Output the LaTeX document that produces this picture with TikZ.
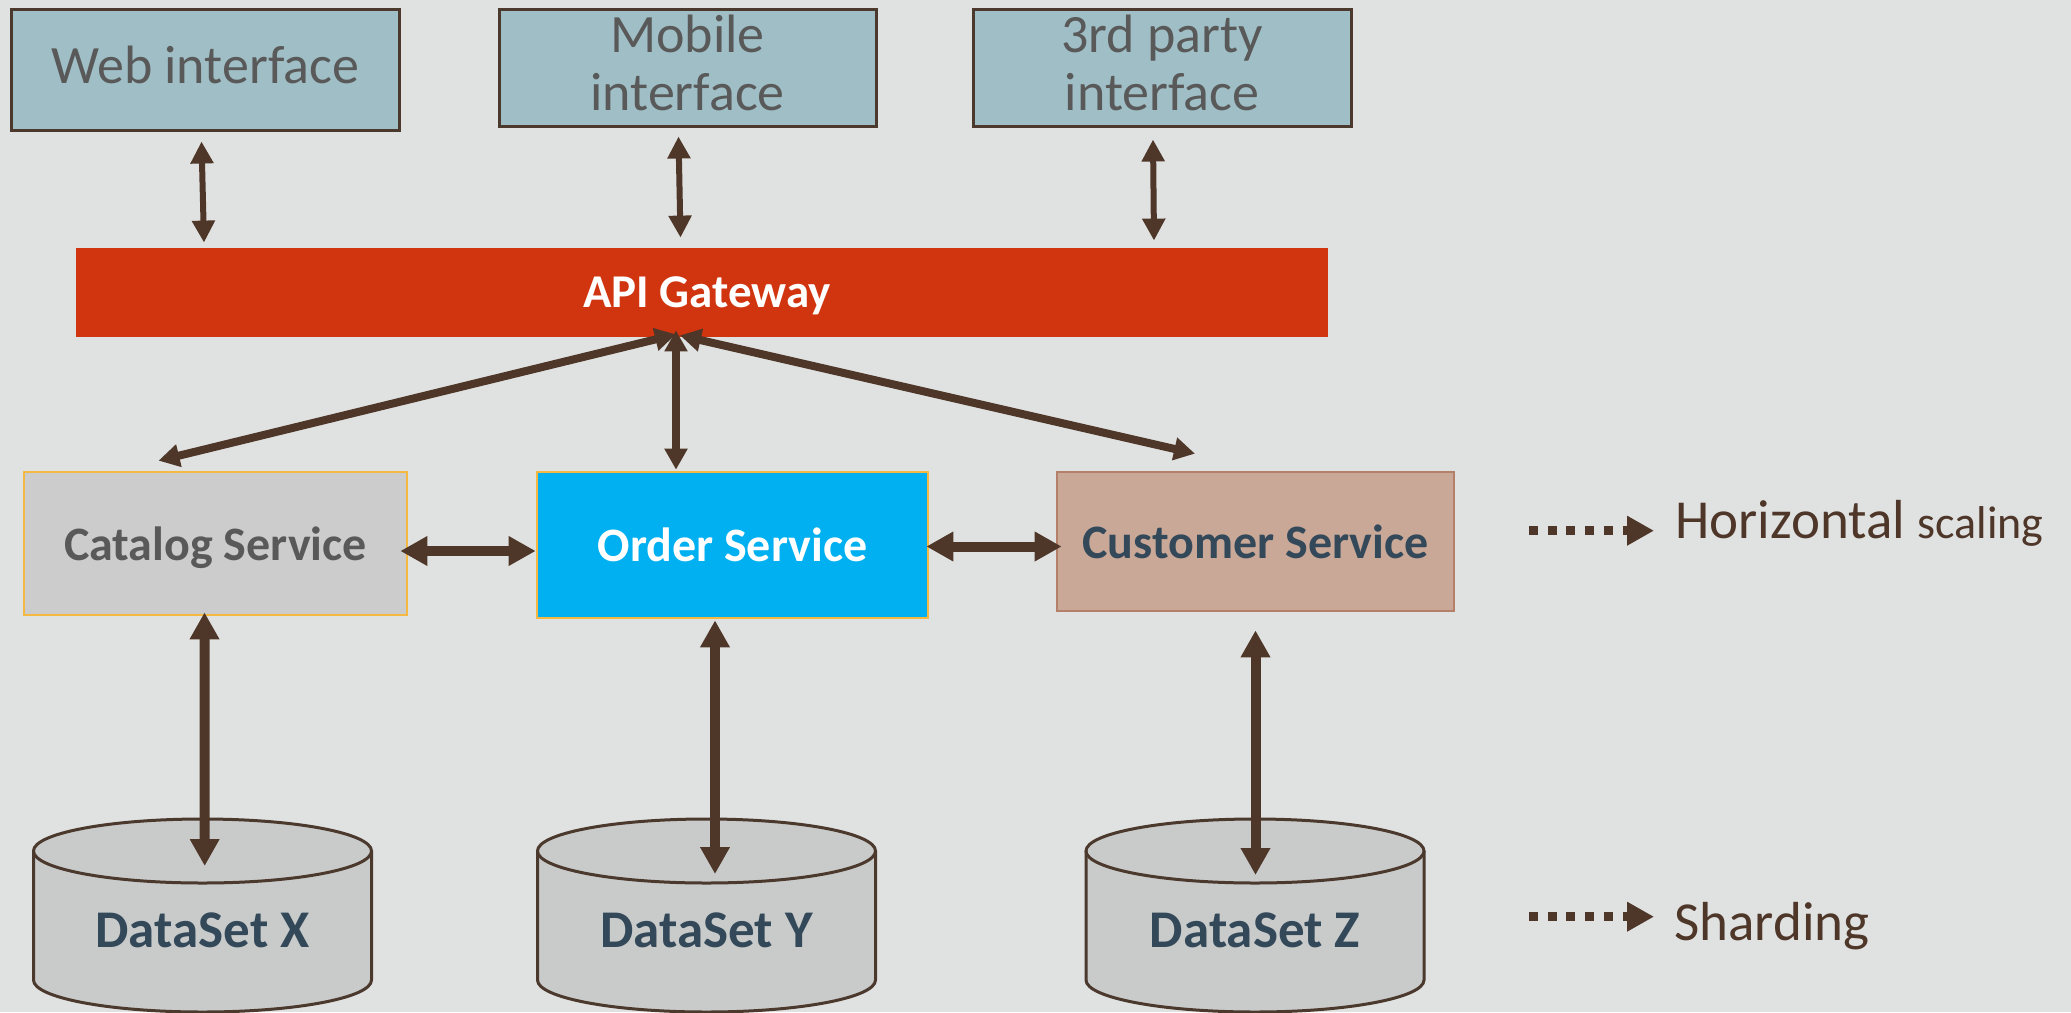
\documentclass[tikz,border=0pt]{standalone}
\usepackage{fontspec}
\setmainfont{Carlito}
\usetikzlibrary{arrows.meta,calc}

\definecolor{bgc}{HTML}{E0E2E1}
\definecolor{clientfill}{HTML}{9FBEC5}
\definecolor{darkline}{HTML}{4B392D}
\definecolor{arrowc}{HTML}{4E3629}
\definecolor{greytext}{HTML}{595959}
\definecolor{gwred}{HTML}{D1350F}
\definecolor{catfill}{HTML}{CBCCCB}
\definecolor{goldline}{HTML}{F5B942}
\definecolor{ordfill}{HTML}{00B0F0}
\definecolor{cusfill}{HTML}{C9A898}
\definecolor{cusline}{HTML}{B5806A}
\definecolor{drumfill}{HTML}{C9CBCA}
\definecolor{slatetext}{HTML}{33495A}

\begin{document}
\begin{tikzpicture}[x=0.5pt,y=-0.5pt,
  client/.style={draw=darkline, line width=1.5pt, fill=clientfill, text=greytext,
    align=center, inner sep=0pt, text depth=0pt,
    font=\fontsize{27}{29}\selectfont},
  gateway/.style={fill=gwred, text=white, inner sep=0pt, text depth=0pt,
    font=\bfseries\fontsize{23.5}{26}\selectfont},
  service/.style={line width=1.35pt, inner sep=0pt, text depth=0pt,
    font=\bfseries\fontsize{24}{28}\selectfont},
  dblabel/.style={text=slatetext, inner sep=0pt, text depth=0pt,
    font=\bfseries\fontsize{26.5}{30}\selectfont},
  drumline/.style={draw=darkline, line width=1.5pt},
  legendtext/.style={text=arrowc, inner sep=0pt, anchor=base west,
    font=\fontsize{27.5}{32}\selectfont},
  toplink/.style={draw=arrowc, line width=3pt,
    {Triangle[length=11pt,width=11pt]}-{Triangle[length=11pt,width=11pt]}},
  diaglink/.style={draw=arrowc, line width=4pt,
    {Triangle[length=10.5pt,width=11pt]}-{Triangle[length=10.5pt,width=11pt]}},
  heavylink/.style={draw=arrowc, line width=5pt,
    {Triangle[length=13.5pt,width=14pt]}-{Triangle[length=13.5pt,width=14pt]}},
  dotlink/.style={draw=arrowc, line width=4.5pt, dash pattern=on 4.5pt off 4.85pt,
    -{Triangle[length=13.5pt,width=14pt]}},
]
% canvas
\fill[bgc] (0,0) rectangle (2071,1012);
\useasboundingbox (0,0) rectangle (2071,1012);

% client interfaces
\node[client, text height=14pt, minimum width=194pt, minimum height=60.5pt] (web) at (205,69.5) {Web interface};
\node[client, text height=42.5pt, minimum width=188.5pt, minimum height=58.5pt] (mobile) at (687.5,67.5) {Mobile\\interface};
\node[client, text height=42.5pt, minimum width=189pt, minimum height=58.5pt] (third) at (1162,67.5) {3rd party\\interface};

% gateway bar
\node[gateway, minimum width=626pt, minimum height=44.5pt] (gw) at (702,292.5) {\hspace*{5pt}API Gateway};

% services
\node[service, draw=goldline, fill=catfill, text=greytext,
      minimum width=191.5pt, minimum height=71.5pt] (cat) at (215.5,543.5) {Catalog Service};
\node[service, draw=goldline, fill=ordfill, text=white,
      minimum width=195.5pt, minimum height=73pt] (ord) at (732.5,545) {Order Service};
\node[service, draw=cusline, fill=cusfill, text=slatetext,
      minimum width=198.5pt, minimum height=69.5pt] (cus) at (1255.5,541.5) {Customer Service};

% data stores drawn as drums
\foreach \cx/\lab in {202.5/X, 706.5/Y, 1255/Z}{
  \fill[drumfill] (\cx-169,851) -- (\cx-169,980)
    arc[start angle=180, end angle=0, x radius=169, y radius=32] -- (\cx+169,851) -- cycle;
  \draw[drumline] (\cx-169,851) -- (\cx-169,980)
    arc[start angle=180, end angle=0, x radius=169, y radius=32] -- (\cx+169,851);
  \draw[drumline, fill=drumfill] (\cx,851) ellipse[x radius=169, y radius=32];
  \coordinate (drum\lab) at (\cx,851);
  \node[dblabel] (db\lab) at (\cx,930) {DataSet \lab};
}

% client <-> gateway
\draw[toplink] ($(web.south)+(-3.5,10)$) -- ($(web.south |- gw.north)+(-1,-5)$);
\draw[toplink] ($(mobile.south)+(-9,9)$) -- ($(mobile.south |- gw.north)+(-7,-10)$);
\draw[toplink] ($(third.south)+(-9,12)$) -- ($(third.south |- gw.north)+(-8,-7)$);

% gateway <-> services
\coordinate (hub) at ($(gw.south)+(-26,-3)$);
\draw[diaglink] (hub) -- ($(cat.north)+(-57,-10)$);
\draw[diaglink] ($(gw.south)+(-26,-7)$) -- ($(ord.north)+(-56.5,-1)$);
\draw[diaglink] ($(hub)+(4,1)$) -- ($(cus.north)+(-60.5,-17)$);

% service <-> service
\draw[heavylink] ($(cat.east)+(-8,7.5)$) -- ($(ord.west)+(0,6)$);
\draw[heavylink] ($(ord.east)+(-3,1.5)$) -- ($(cus.west)+(6,5)$);

% service <-> data store
\draw[heavylink] ($(cat.south)+(-11,-4)$) -- ($(drumX)+(2.2,15)$);
\draw[heavylink] ($(ord.south)+(-17.5,1)$) -- ($(drumY)+(8.5,23)$);
\draw[heavylink] ($(cus.south)+(0,18)$) -- ($(drumZ)+(0.5,24)$);

% legend
\node[legendtext] (hlabel) at (1675,538) {Horizontal {\fontsize{23}{26}\selectfont scaling}};
\node[legendtext] (slabel) at (1674,940) {Sharding};
\coordinate (hsrc) at (1529,530.7);
\coordinate (ssrc) at (1529,916.7);
\draw[dotlink] (hsrc) -- ($(hsrc -| hlabel.west)+(-21,0)$);
\draw[dotlink] (ssrc) -- ($(ssrc -| slabel.west)+(-20,0)$);
\end{tikzpicture}
\end{document}
